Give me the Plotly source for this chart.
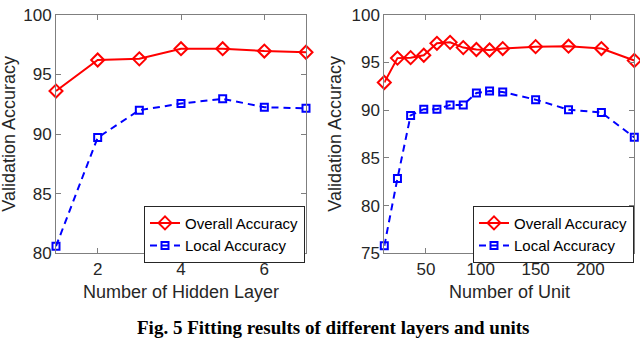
import plotly.graph_objects as go

W, H = 640, 348

# Left panel: hidden layers
layers = [1, 2, 3, 4, 5, 6, 7]
layer_overall = [93.6, 96.2, 96.3, 97.15, 97.15, 96.95, 96.85]
layer_local = [80.6, 89.7, 92.0, 92.55, 92.95, 92.25, 92.15]

# Right panel: units
units = [12, 24, 36, 48, 60, 72, 84, 96, 108, 120, 150, 180, 210, 240]
unit_overall = [92.9, 95.45, 95.5, 95.75, 97.0, 97.1, 96.55, 96.35, 96.3, 96.45, 96.65, 96.7, 96.45, 95.2]
unit_local = [75.8, 82.85, 89.45, 90.1, 90.1, 90.55, 90.55, 91.8, 92.0, 91.9, 91.1, 90.05, 89.75, 87.15]

left_xticks = [2, 4, 6]
left_yticks = [80, 85, 90, 95, 100]
right_xticks = [50, 100, 150, 200]
right_yticks = [75, 80, 85, 90, 95, 100]

FONT = "Liberation Sans"
RED = "#ff0000"
BLUE = "#0000ff"
AXC = "#7f7f7f"
TXT = "#262626"

def px(x):
    return x / W

def py(y):
    return 1 - y / H

fig = go.Figure()

def add_series(x, yo, yl, xa, ya, leg):
    fig.add_trace(go.Scatter(
        x=x, y=yo, mode="lines+markers", name="Overall Accuracy",
        line=dict(color=RED, width=2),
        marker=dict(symbol="diamond-open", size=10, color=RED, line=dict(width=2)),
        xaxis=xa, yaxis=ya, legend=leg, cliponaxis=False))
    fig.add_trace(go.Scatter(
        x=x, y=yl, mode="lines+markers", name="Local Accuracy",
        line=dict(color=BLUE, width=2, dash="7px,5px"),
        marker=dict(symbol="square-open", size=7, color=BLUE, line=dict(width=2)),
        xaxis=xa, yaxis=ya, legend=leg, cliponaxis=False))

add_series(layers, layer_overall, layer_local, "x", "y", "legend")
add_series(units, unit_overall, unit_local, "x2", "y2", "legend2")

axis_common = dict(
    showline=True, linecolor=AXC, linewidth=1, mirror="ticks",
    ticks="inside", ticklen=5, tickcolor=AXC, showgrid=False, zeroline=False,
    tickfont=dict(family=FONT, size=17, color=TXT),
    ticklabeloverflow="allow",
)

ybot = py(258.5)
ytop = py(6)

legend_common = dict(xanchor="left", yanchor="top",
                     bgcolor="white", bordercolor="#262626", borderwidth=1,
                     font=dict(family=FONT, size=15, color="black"),
                     tracegroupgap=0, itemwidth=30)

fig.update_layout(
    width=W, height=H,
    margin=dict(l=0, r=0, t=0, b=0),
    paper_bgcolor="white", plot_bgcolor="white",
    xaxis=dict(domain=[px(56), px(306)], range=[1, 7], tickvals=left_xticks,
               anchor="y", **axis_common),
    yaxis=dict(domain=[ybot, ytop], range=[80, 100], tickvals=left_yticks,
               anchor="x", **axis_common),
    xaxis2=dict(domain=[px(384.3), px(634.3)], range=[12, 240], tickvals=right_xticks,
                anchor="y2", **axis_common),
    yaxis2=dict(domain=[ybot, ytop], range=[75, 100], tickvals=right_yticks,
                anchor="x2", **axis_common),
    legend=dict(x=px(144), y=py(208), **legend_common),
    legend2=dict(x=px(473), y=py(208), **legend_common),
)

ann_font = dict(family=FONT, size=18, color=TXT)
annotations = [
    dict(text="Number of Hidden Layer", x=px(181), y=py(299)),
    dict(text="Number of Unit", x=px(509), y=py(299)),
    dict(text="Validation Accuracy", x=px(9), y=py(132), textangle=-90),
    dict(text="Validation Accuracy", x=px(335), y=py(132), textangle=-90),
]
for a in annotations:
    fig.add_annotation(xref="paper", yref="paper", showarrow=False,
                       xanchor="center", yanchor="middle", font=ann_font, **a)

fig.add_annotation(xref="paper", yref="paper", showarrow=False,
                   x=px(333), y=py(337), xanchor="center", yanchor="middle",
                   text="<b>Fig. 5 Fitting results of different layers and units</b>",
                   font=dict(family="Liberation Serif", size=19, color="black"))

fig.write_html(
    "out.html",
    config={"displayModeBar": False},
    post_script="document.body.style.margin='0';document.body.style.overflow='hidden';",
)
